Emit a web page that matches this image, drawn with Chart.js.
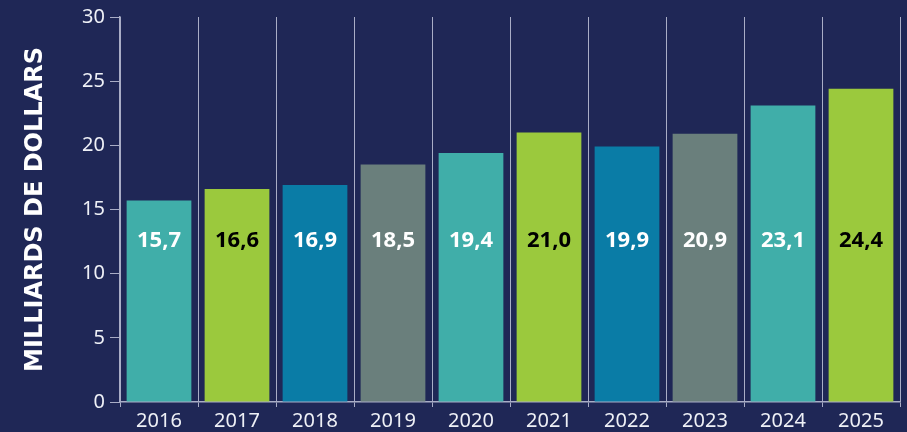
<!DOCTYPE html>
<html>
<head>
<meta charset="utf-8">
<script src="https://cdn.jsdelivr.net/npm/chart.js@4"></script>
<style>
  html, body { margin: 0; padding: 0; background: #1f2756; }
  #wrap { width: 907px; height: 432px; }
</style>
</head>
<body>
<div id="wrap"><canvas id="chart"></canvas></div>
<script>
// données
const annees = ["2016", "2017", "2018", "2019", "2020", "2021", "2022", "2023", "2024", "2025"];
const valeurs = [15.7, 16.6, 16.9, 18.5, 19.4, 21.0, 19.9, 20.9, 23.1, 24.4];
const couleurs = ["#40aea9", "#9bc93d", "#0a7ca6", "#6a7f7c", "#40aea9",
                  "#9bc93d", "#0a7ca6", "#6a7f7c", "#40aea9", "#9bc93d"];
const couleursTexte = ["#ffffff", "#000000", "#ffffff", "#ffffff", "#ffffff",
                       "#000000", "#ffffff", "#ffffff", "#ffffff", "#000000"];

const lignes = "#a9adc6";

// étiquettes de valeur, toutes sur la même ligne
const etiquettes = {
    id: "etiquettes",
    afterDatasetsDraw(chart) {
        const ctx = chart.ctx;
        const meta = chart.getDatasetMeta(0);
        const y = chart.scales.y.getPixelForValue(12.6);
        ctx.save();
        ctx.font = "bold 22px 'Noto Sans'";
        ctx.textAlign = "center";
        ctx.textBaseline = "middle";
        meta.data.forEach((bar, i) => {
            ctx.fillStyle = couleursTexte[i];
            ctx.fillText(valeurs[i].toFixed(1).replace(".", ","), bar.x, y);
        });
        ctx.restore();
    }
};

new Chart(document.getElementById("chart"), {
    type: "bar",
    data: {
        labels: annees,
        datasets: [{
            data: valeurs,
            backgroundColor: couleurs,
            borderWidth: 0,
            barPercentage: 0.83,
            categoryPercentage: 1
        }]
    },
    options: {
        responsive: true,
        maintainAspectRatio: false,
        animation: false,
        layout: { padding: { top: 16, right: 7, left: 0, bottom: 0 } },
        plugins: {
            legend: { display: false },
            tooltip: { enabled: false }
        },
        scales: {
            x: {
                afterFit: (s) => { s.height = 30; },
                grid: {
                    color: lignes,
                    lineWidth: 1,
                    tickLength: 5,
                    offset: true
                },
                border: { color: lignes, width: 1.5 },
                ticks: {
                    color: "#eef0f6",
                    font: { family: "'Noto Sans'", size: 20 },
                    padding: 2
                }
            },
            y: {
                min: 0,
                max: 30,
                afterFit: (s) => { s.width = 120; },
                grid: {
                    drawOnChartArea: false,
                    color: lignes,
                    tickLength: 10
                },
                border: { color: lignes, width: 1.5 },
                ticks: {
                    stepSize: 5,
                    color: "#eef0f6",
                    font: { family: "'Noto Sans'", size: 20 },
                    padding: 5
                },
                title: {
                    display: true,
                    text: "MILLIARDS DE DOLLARS",
                    color: "#ffffff",
                    font: { family: "'DejaVu Sans'", size: 24, weight: "bold" },
                    padding: { top: 21, bottom: 0 }
                }
            }
        }
    },
    plugins: [etiquettes]
});
</script>
</body>
</html>
